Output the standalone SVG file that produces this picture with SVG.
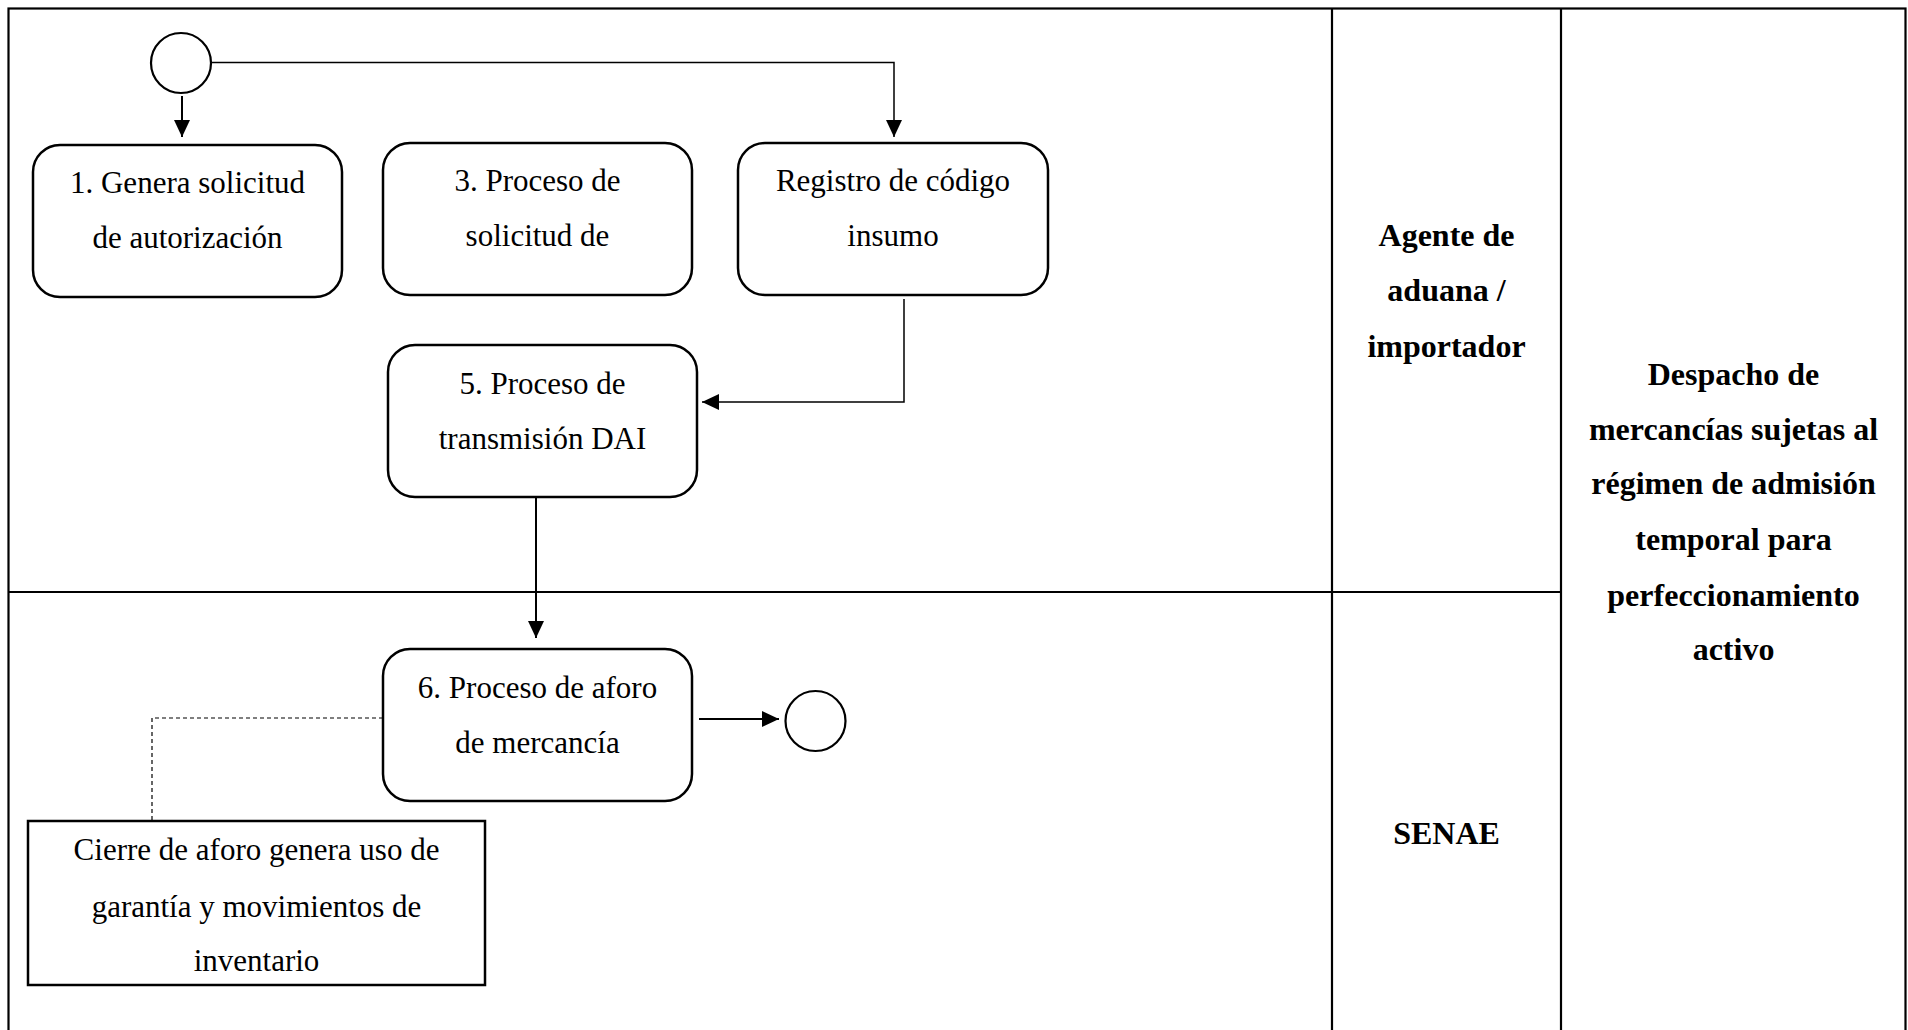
<svg xmlns="http://www.w3.org/2000/svg" width="1908" height="1030" viewBox="0 0 1908 1030">
<defs>
<style>
.lane{fill:none;stroke:#000;stroke-width:2.2}
.task{fill:#fff;stroke:#000;stroke-width:2.5}
.ev{fill:#fff;stroke:#000;stroke-width:2.2}
.note{fill:#fff;stroke:#000;stroke-width:2.5}
.t{font-family:"Liberation Serif","Times New Roman",serif;font-size:31px;fill:#000;text-anchor:middle}
.b{font-family:"Liberation Serif","Times New Roman",serif;font-size:32px;font-weight:bold;fill:#000;text-anchor:middle}
.c{fill:none;stroke:#000;stroke-width:2}
.thin{fill:none;stroke:#000;stroke-width:1.5}
.dash{fill:none;stroke:#000;stroke-width:1.2;stroke-dasharray:4 3}
</style>
<marker id="arr" markerUnits="userSpaceOnUse" markerWidth="17" markerHeight="17" viewBox="0 0 17 17" refX="17" refY="8.5" orient="auto">
<path d="M0,0.5 L17,8.5 L0,16.5 z" fill="#000"/>
</marker>
</defs>
<rect width="1908" height="1030" fill="#fff"/>
<g id="pool">
<rect class="lane" x="8.5" y="8.5" width="1897" height="1040"/>
<line class="lane" x1="1332" y1="8.5" x2="1332" y2="1040"/>
<line class="lane" x1="1561" y1="8.5" x2="1561" y2="1040"/>
<line class="lane" x1="8.5" y1="592" x2="1561" y2="592"/>
</g>
<g id="lane-agente">
<text class="b" x="1446.5" y="246">Agente de</text>
<text class="b" x="1446.5" y="301">aduana /</text>
<text class="b" x="1446.5" y="357">importador</text>
</g>
<g id="lane-senae">
<text class="b" x="1446.5" y="844">SENAE</text>
</g>
<g id="pool-title">
<text class="b" x="1733.5" y="385">Despacho de</text>
<text class="b" x="1733.5" y="440">mercancías sujetas al</text>
<text class="b" x="1733.5" y="494">régimen de admisión</text>
<text class="b" x="1733.5" y="550">temporal para</text>
<text class="b" x="1733.5" y="606">perfeccionamiento</text>
<text class="b" x="1733.5" y="660">activo</text>
</g>
<g id="connectors">
<path class="c" d="M182 96 V137" marker-end="url(#arr)"/>
<path class="thin" d="M211 62.5 H894 V137" marker-end="url(#arr)"/>
<path class="thin" d="M904 299 V402 H702" marker-end="url(#arr)"/>
<path class="c" d="M536 497 V638" marker-end="url(#arr)"/>
<path class="c" d="M699 719 H779" marker-end="url(#arr)"/>
<path class="dash" d="M383 718 H152 V821"/>
</g>
<g id="start">
<circle class="ev" cx="181" cy="63" r="30"/>
</g>
<g id="task1">
<rect class="task" x="33" y="145" width="309" height="152" rx="27" ry="27"/>
<text class="t" x="187.5" y="193">1. Genera solicitud</text>
<text class="t" x="187.5" y="248">de autorización</text>
</g>
<g id="task3">
<rect class="task" x="383" y="143" width="309" height="152" rx="27" ry="27"/>
<text class="t" x="537.5" y="191">3. Proceso de</text>
<text class="t" x="537.5" y="246">solicitud de</text>
</g>
<g id="registro">
<rect class="task" x="738" y="143" width="310" height="152" rx="27" ry="27"/>
<text class="t" x="893" y="191">Registro de código</text>
<text class="t" x="893" y="246">insumo</text>
</g>
<g id="task5">
<rect class="task" x="388" y="345" width="309" height="152" rx="27" ry="27"/>
<text class="t" x="542.5" y="394">5. Proceso de</text>
<text class="t" x="542.5" y="449">transmisión DAI</text>
</g>
<g id="task6">
<rect class="task" x="383" y="649" width="309" height="152" rx="27" ry="27"/>
<text class="t" x="537.5" y="698">6. Proceso de aforo</text>
<text class="t" x="537.5" y="753">de mercancía</text>
</g>
<g id="end">
<circle class="ev" cx="815.5" cy="721" r="30"/>
</g>
<g id="annotation">
<rect class="note" x="28" y="821" width="457" height="164"/>
<text class="t" x="256.5" y="860">Cierre de aforo genera uso de</text>
<text class="t" x="256.5" y="917">garantía y movimientos de</text>
<text class="t" x="256.5" y="971">inventario</text>
</g>
</svg>
